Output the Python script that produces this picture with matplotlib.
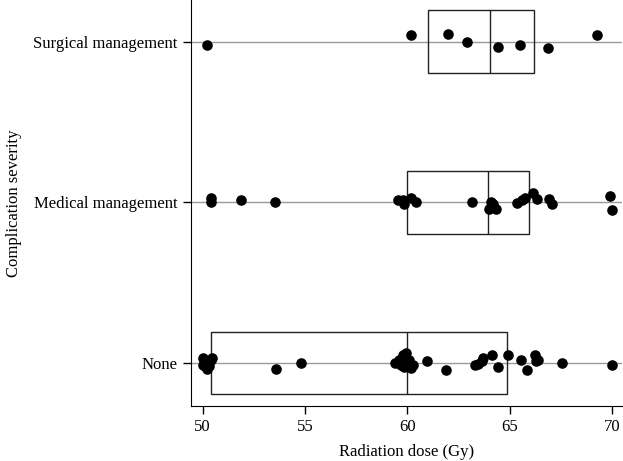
import matplotlib
matplotlib.use("Agg")
import matplotlib.pyplot as plt
import numpy as np

plt.rcParams["font.family"] = ["Liberation Serif", "DejaVu Serif"]

categories = ["None", "Medical management", "Surgical management"]

# box statistics (q1, median, q3) per category
box_q1 = [50.4, 60.0, 61.0]
box_med = [60.0, 63.95, 64.05]
box_q3 = [64.85, 65.95, 66.2]

# individual doses and vertical jitter (fraction of category spacing)
none_x = [50.0, 50.05, 50.1, 50.2, 50.3, 50.4, 50.45, 50.2, 50.0,
          53.6, 54.8,
          59.4, 59.6, 59.8, 59.9, 60.0, 60.0, 60.1, 60.2, 59.7, 60.3, 59.95, 59.85,
          60.97, 61.89,
          63.31, 63.47, 63.63, 63.71, 64.12, 64.44, 64.93, 65.55, 65.86,
          66.24, 66.29, 66.4, 67.54, 69.98]
none_j = [0.03, 0.0, -0.02, -0.035, -0.02, 0.02, 0.03, 0.01, -0.01,
          -0.035, 0.0,
          0.0, 0.02, 0.05, 0.03, 0.0, -0.02, 0.02, -0.03, -0.01, -0.01, 0.06, -0.025,
          0.015, -0.045,
          -0.012, -0.006, 0.014, 0.03, 0.05, -0.023, 0.05, 0.02, -0.044,
          0.05, 0.014, 0.02, 0.0, -0.01]

med_x = [50.39, 50.39, 51.86, 53.55, 59.56, 59.77, 59.83, 60.16, 60.42,
         63.14, 64.07, 64.0, 64.33, 64.2, 65.37, 65.58, 65.74, 66.15, 66.32,
         66.93, 67.05, 69.9, 69.98]
med_j = [0.03, 0.0, 0.015, 0.0, 0.015, 0.015, -0.01, 0.025, 0.0,
         0.0, 0.0, -0.04, -0.04, -0.01, -0.005, 0.015, 0.03, 0.06, 0.02,
         0.02, -0.01, 0.04, -0.045]

surg_x = [50.2, 60.18, 61.97, 62.9, 64.44, 65.53, 66.88, 69.25]
surg_j = [-0.02, 0.04, 0.05, 0.0, -0.035, -0.023, -0.04, 0.044]

fig = plt.figure(figsize=(6.23, 4.61), dpi=100)
ax = fig.add_axes([0.3066, 0.1193, 0.6918, 0.8807])

# grid lines at each category
for i in range(len(categories)):
    ax.axhline(i, color="#9a9a9a", lw=1.0, zorder=0)

stats = []
for i in range(len(categories)):
    stats.append(dict(q1=box_q1[i], med=box_med[i], q3=box_q3[i],
                      whislo=box_q1[i], whishi=box_q3[i], fliers=[]))
ax.bxp(stats, positions=range(len(categories)), widths=0.39, vert=False,
       showcaps=False, showfliers=False, patch_artist=True,
       boxprops=dict(facecolor="none", edgecolor="#222222", lw=1.0),
       medianprops=dict(color="#222222", lw=1.0),
       whiskerprops=dict(lw=0), manage_ticks=False)

for i, (xs, js) in enumerate([(none_x, none_j), (med_x, med_j), (surg_x, surg_j)]):
    ax.scatter(xs, i + np.array(js), s=58, color="black", zorder=3, lw=0)

ax.set_xlim(49.43, 70.49)
ax.set_ylim(-0.268, 2.26)
ax.set_xticks([50, 55, 60, 65, 70])
ax.set_yticks(range(len(categories)))
ax.set_yticklabels(categories)
ax.tick_params(axis="both", labelsize=12, direction="out", length=6, width=1)
ax.spines["top"].set_visible(False)
ax.spines["right"].set_visible(False)
ax.set_xlabel("Radiation dose (Gy)", fontsize=12, labelpad=6)
ax.set_ylabel("Complication severity", fontsize=12, labelpad=8)

fig.savefig("out.png", dpi=100)
